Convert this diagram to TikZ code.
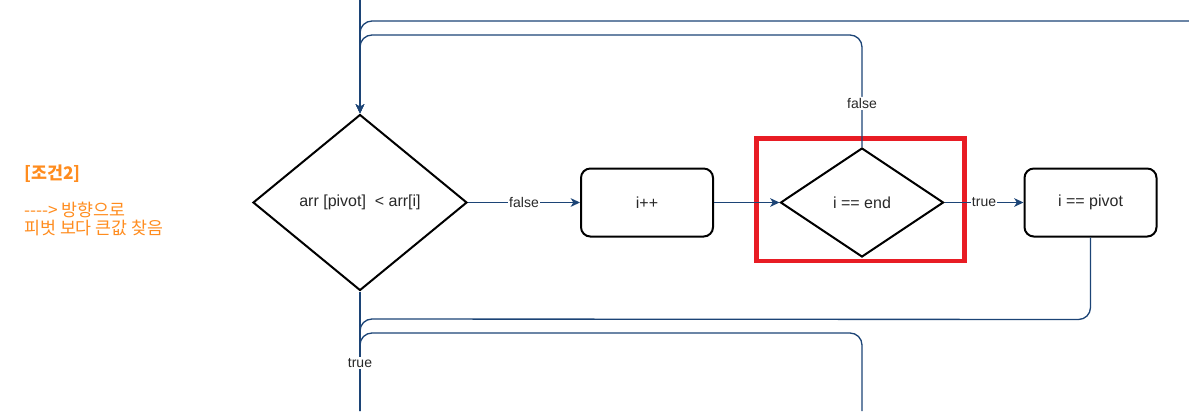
\documentclass[tikz,border=0pt]{standalone}
\usepackage{fontspec}
\setmainfont{Liberation Sans}
\newfontfamily\kr{Noto Sans CJK KR}
\usetikzlibrary{shapes.geometric,arrows.meta}
\definecolor{edgec}{RGB}{28,68,118}
\definecolor{txt}{RGB}{40,40,40}
\definecolor{orng}{RGB}{255,140,30}
\definecolor{redc}{RGB}{232,28,36}
\begin{document}
\begin{tikzpicture}[x=0.75pt,y=-0.75pt,
 decision/.style={diamond,draw=black,line width=1.5pt,inner sep=0pt,text=txt,font=\fontsize{12}{14}\selectfont},
 proc/.style={rectangle,rounded corners=7pt,draw=black,line width=1.5pt,text=txt,font=\fontsize{12}{14}\selectfont,minimum width=99pt,minimum height=51pt},
 edge/.style={draw=edgec,line width=1pt},
 arr/.style={edge,-{Stealth[length=7pt,width=6.5pt,inset=2pt]}},
 lbl/.style={fill=white,inner sep=1pt,text=txt,font=\fontsize{10.5}{12}\selectfont},
 note/.style={text=orng,inner sep=0pt,anchor=west}
]
\useasboundingbox (0,0) rectangle (1189,411);
% nodes
\node[decision,minimum width=160.5pt,minimum height=132pt] (d1) at (360,202.5) {arr [pivot]~~< arr[i]};
\node[proc] (b1) at (647,202.5) {i++};
\node[decision,minimum width=122.25pt,minimum height=81.75pt] (d2) at (862,202.5) {i == end};
\node[proc] (b2) at (1090.5,202.5) {i == pivot};
\node[draw=redc,line width=3.4pt,inner sep=0pt,minimum width=156pt,minimum height=91.9pt] (hl) at (860.5,199.75) {};
% free ends
\coordinate (tin) at (360,0);
\coordinate (rin) at (1189,21);
\coordinate (bot) at (360,411);
\coordinate (bot2) at (862,411);
% edges
\draw[arr] (tin) -- (d1.north);
\draw[arr,rounded corners=9pt] (rin) -- (360,21) -- (d1.north);
\draw[arr,rounded corners=9pt] (d2.north) -- node[lbl,pos=0.39]{false} (862,35) -- (360,35) -- (d1.north);
\draw[arr] (d1.east) -- node[lbl]{false} (b1.west);
\draw[arr] (b1.east) -- (d2.west);
\draw[arr] (d2.east) -- node[lbl]{true} (b2.west);
\draw[edge,rounded corners=9pt] (b2.south) -- ++(0,82) -- (360,319) -- (bot);
\draw[edge,rounded corners=9pt] (bot2) -- (862,333) -- (360,333) -- (bot);
\draw[edge] (d1.south) -- node[lbl,pos=0.595]{true} (bot);
% notes
\node[note,font=\kr\bfseries\fontsize{13}{15}\selectfont] (t1) at (24,174) {[조건2]};
\node[note,anchor=north west,align=left,font=\kr\fontsize{13}{13.6}\selectfont] (t2) at (24,202) {-{}-{}-{}-{}> 방향으로\\피벗 보다 큰값 찾음};
\end{tikzpicture}
\end{document}
